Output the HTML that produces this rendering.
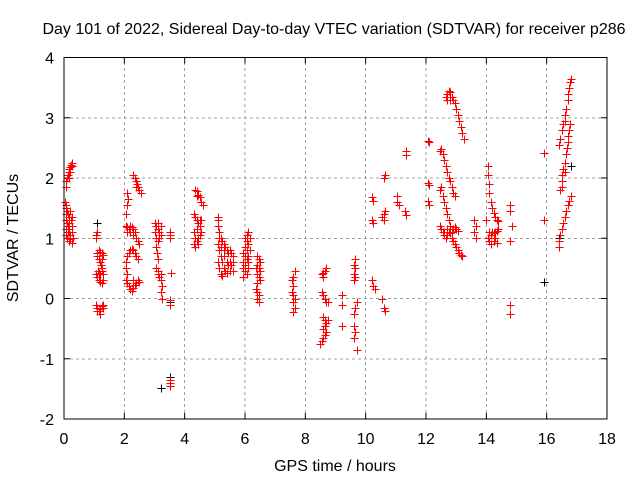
<!DOCTYPE html>
<html><head><meta charset="utf-8"><style>
body{margin:0;background:#fff}
svg{display:block;font-family:"Liberation Sans",sans-serif}
</style></head><body>
<svg id="chart" width="640" height="480" viewBox="0 0 640 480" xmlns="http://www.w3.org/2000/svg">
<rect width="640" height="480" fill="#fff"/>
<text x="334" y="34" font-size="16" text-anchor="middle" fill="#000">Day 101 of 2022, Sidereal Day-to-day VTEC variation (SDTVAR) for receiver p286</text>
<text x="335" y="471" font-size="16" text-anchor="middle">GPS time / hours</text>
<text transform="translate(18,238) rotate(-90)" font-size="16" text-anchor="middle">SDTVAR / TECUs</text>
<g id="grid" shape-rendering="crispEdges"></g>
<g id="ticks"></g>
<g id="marks" shape-rendering="crispEdges"></g>
<rect x="64" y="57.5" width="543" height="361.5" fill="none" stroke="#000" stroke-width="1"/>
</svg>
<script>
const xTicks=[0,2,4,6,8,10,12,14,16,18];
const yTicks=[-2,-1,0,1,2,3,4];
const blackPoints=[[1.1,1.25],[3.2,-1.48],[3.5,-1.3],[3.5,-0.05],[15.9,0.28],[16.4,1.0],[16.8,2.2]];
const redPoints=[
[0.05,1.85],[0.07,1.95],[0.1,2.0],[0.12,2.05],[0.15,2.1],[0.18,2.15],[0.2,2.18],[0.22,2.22],[0.25,2.25],[0.28,2.2],[0.15,2.0],[0.2,2.1],
[0.03,1.6],[0.05,1.55],[0.08,1.5],[0.1,1.45],[0.12,1.4],[0.15,1.35],[0.05,1.4],[0.08,1.3],[0.1,1.25],[0.12,1.2],[0.15,1.15],[0.18,1.1],[0.2,1.05],[0.05,1.15],[0.08,1.05],[0.1,1.0],[0.15,0.95],[0.2,0.98],[0.25,0.92],[0.18,1.25],[0.22,1.3],[0.25,1.35],[0.28,1.2],[0.2,1.45],[0.25,1.1],[0.3,1.0],[0.12,1.1],[0.05,1.05],
[1.1,0.75],[1.15,0.8],[1.2,0.78],[1.25,0.75],[1.1,0.7],[1.15,0.65],[1.2,0.6],[1.22,0.55],[1.25,0.5],[1.25,0.45],[1.3,0.4],[1.05,0.4],[1.1,0.35],[1.15,0.3],[1.2,0.28],[1.25,0.25],[1.3,0.3],[1.12,0.45],[1.15,0.42],[1.2,0.4],[1.3,0.72],[1.25,0.65],[1.05,1.05],[1.1,1.1],[1.05,1.0],
[1.05,-0.1],[1.1,-0.15],[1.15,-0.2],[1.2,-0.18],[1.25,-0.12],[1.3,-0.1],[1.1,-0.2],[1.2,-0.25],[1.3,-0.15],
[2.3,2.05],[2.35,2.0],[2.38,1.95],[2.42,1.9],[2.45,1.85],[2.5,1.8],[2.55,1.75],[2.4,1.85],[2.1,1.75],[2.12,1.65],[2.1,1.55],[2.05,1.4],
[2.05,1.2],[2.1,1.18],[2.15,1.15],[2.2,1.2],[2.25,1.18],[2.3,1.15],[2.35,1.1],[2.4,1.0],[2.45,0.95],[2.5,0.9],[2.1,1.1],[2.2,1.1],[2.3,1.05],
[2.05,0.6],[2.1,0.7],[2.15,0.75],[2.2,0.8],[2.25,0.82],[2.3,0.8],[2.35,0.75],[2.4,0.7],[2.45,0.65],[2.05,0.5],[2.08,0.4],[2.05,0.3],[2.1,0.25],[2.15,0.2],[2.2,0.15],[2.25,0.12],[2.3,0.18],[2.35,0.22],[2.4,0.25],[2.45,0.3],[2.5,0.28],[2.3,0.3],
[3.0,1.25],[3.05,1.2],[3.1,1.15],[3.15,1.1],[3.2,1.05],[3.0,1.1],[3.1,1.25],[3.2,1.2],[3.05,1.0],[3.15,1.0],[3.1,0.95],[3.05,0.85],[3.08,0.75],[3.1,0.65],[3.05,0.5],[3.1,0.45],[3.15,0.35],[3.2,0.3],[3.25,0.2],[3.2,0.1],[3.25,0.0],[3.1,0.4],[3.2,0.4],
[3.5,1.1],[3.5,1.05],[3.5,1.0],[3.55,0.42],[3.5,-0.02],[3.52,-0.1],[3.5,-1.45],[3.5,-1.4],[3.5,-1.35],
[4.35,1.8],[4.4,1.78],[4.45,1.72],[4.5,1.68],[4.55,1.6],[4.6,1.55],[4.4,1.7],
[4.3,1.4],[4.35,1.35],[4.4,1.3],[4.45,1.25],[4.5,1.2],[4.55,1.1],[4.3,1.1],[4.35,1.0],[4.4,0.95],[4.45,1.0],[4.5,1.05],[4.3,0.9],[4.35,0.85],[4.45,0.9],[4.5,1.3],[4.4,1.15],[4.55,1.3],
[5.1,1.35],[5.1,1.3],[5.1,1.2],[5.15,1.1],[5.2,1.0],[5.25,0.95],[5.3,0.9],[5.35,0.85],[5.4,0.8],[5.45,0.75],[5.5,0.8],[5.55,0.75],[5.6,0.7],[5.1,0.9],[5.15,0.8],[5.2,0.7],[5.25,0.6],[5.3,0.5],[5.35,0.45],[5.4,0.42],[5.5,0.45],[5.6,0.45],[5.1,0.6],[5.15,0.5],[5.2,0.4],[5.25,0.38],[5.3,0.7],[5.45,0.55],[5.55,0.55],[5.15,1.0],[5.3,0.8],[5.4,0.6],[5.5,0.6],[5.2,0.85],[5.6,0.6],
[6.1,1.1],[6.05,1.05],[6.0,1.0],[6.05,0.95],[6.1,0.9],[6.0,0.85],[6.05,0.8],[5.95,0.75],[6.0,0.7],[6.1,0.7],[6.05,0.65],[5.95,0.6],[6.0,0.55],[6.1,0.6],[5.95,0.5],[6.0,0.45],[6.05,0.4],[5.95,0.35],[6.15,0.8],[6.15,1.0],[6.1,0.5],
[6.4,0.7],[6.45,0.65],[6.5,0.6],[6.4,0.55],[6.45,0.5],[6.5,0.45],[6.4,0.4],[6.45,0.35],[6.4,0.25],[6.35,0.15],[6.4,0.1],[6.45,0.05],[6.4,0.0],[6.45,-0.05],[6.5,0.3],[6.35,0.5],
[7.65,0.45],[7.6,0.35],[7.55,0.3],[7.6,0.2],[7.55,0.1],[7.6,0.05],[7.65,0.0],[7.6,-0.05],[7.65,-0.15],[7.6,-0.22],
[8.55,0.4],[8.6,0.42],[8.65,0.45],[8.7,0.5],[8.6,0.35],[8.55,0.1],[8.6,0.05],[8.65,0.0],[8.7,-0.05],[8.75,-0.05],
[8.6,-0.3],[8.65,-0.35],[8.7,-0.4],[8.65,-0.45],[8.6,-0.5],[8.7,-0.55],[8.65,-0.6],[8.6,-0.65],[8.55,-0.7],[8.5,-0.75],[8.75,-0.35],
[9.2,0.05],[9.2,-0.1],[9.2,-0.45],
[9.65,0.65],[9.6,0.55],[9.65,0.5],[9.6,0.4],[9.65,0.35],[9.6,0.3],[9.7,-0.05],[9.65,-0.15],[9.6,-0.25],[9.6,-0.45],[9.65,-0.55],[9.6,-0.65],[9.7,-0.85],
[10.2,1.68],[10.25,1.62],[10.2,1.3],[10.25,1.25],[10.2,0.3],[10.25,0.2],[10.3,0.15],
[10.6,2.0],[10.65,2.05],[10.55,1.35],[10.6,1.4],[10.65,1.45],[10.6,1.3],[10.55,0.0],[10.6,-0.15],[10.65,-0.2],
[11.05,1.7],[11.05,1.6],[11.1,1.55],[11.35,2.45],[11.35,2.38],[11.3,1.45],[11.35,1.38],
[12.05,2.62],[12.1,2.6],[12.05,1.92],[12.1,1.88],[12.05,1.62],[12.1,1.55],
[12.65,3.35],[12.7,3.4],[12.75,3.45],[12.8,3.42],[12.85,3.35],[12.9,3.3],[12.95,3.25],[13.0,3.15],[13.05,3.05],[13.1,2.95],[13.15,2.85],[13.2,2.75],[13.25,2.65],[12.7,3.3],[12.8,3.3],
[12.45,2.45],[12.5,2.48],[12.55,2.4],[12.6,2.3],[12.65,2.2],[12.7,2.1],[12.75,2.0],[12.8,1.95],[12.85,1.85],[12.9,1.75],[12.95,1.7],
[12.45,1.8],[12.5,1.85],[12.55,1.7],[12.6,1.6],[12.65,1.5],[12.7,1.4],[12.75,1.3],[12.8,1.2],
[12.45,1.2],[12.5,1.15],[12.55,1.1],[12.6,1.05],[12.65,1.0],[12.7,1.05],[12.75,1.1],[12.8,1.08],[12.85,1.1],[12.9,1.15],[12.95,1.18],[13.0,1.15],[13.05,1.12],[12.85,1.0],[12.9,0.95],[12.95,0.9],[13.0,0.85],[13.05,0.8],[13.1,0.75],[13.15,0.72],[13.2,0.7],[12.7,1.15],[12.6,1.1],
[13.6,1.3],[13.65,1.2],[13.6,1.1],[13.65,1.0],[14.05,2.2],[14.05,2.05],[14.1,1.9],[14.1,1.75],[14.15,1.6],[14.2,1.5],[14.25,1.42],[14.3,1.35],[14.35,1.3],[14.4,1.28],[14.1,1.1],[14.15,1.05],[14.2,1.1],[14.25,1.08],[14.3,1.1],[14.35,1.12],[14.4,1.15],[14.05,1.0],[14.1,0.95],[14.15,0.9],[14.25,0.95],[14.3,1.0],[14.35,0.92],[14.0,1.3],
[14.8,1.55],[14.8,1.45],[14.85,1.2],[14.8,0.95],[14.8,-0.1],[14.8,-0.25],
[15.9,2.42],[15.9,1.3],
[16.4,2.55],[16.45,2.65],[16.5,2.8],[16.55,2.9],[16.6,2.95],[16.62,3.05],[16.65,3.15],[16.7,3.3],[16.72,3.4],[16.75,3.5],[16.78,3.6],[16.8,3.65],
[16.45,1.8],[16.5,1.95],[16.52,2.05],[16.55,2.15],[16.6,2.25],[16.65,2.4],[16.68,2.5],[16.7,2.6],[16.72,2.7],[16.75,2.8],[16.78,2.9],[16.6,2.1],[16.5,1.85],
[16.4,0.85],[16.4,0.95],[16.45,1.05],[16.5,1.15],[16.55,1.25],[16.6,1.35],[16.65,1.45],[16.7,1.55],[16.75,1.62],[16.8,1.7]
];
const NS='http://www.w3.org/2000/svg';
const X0=64,X1=607,Y0=419,Y1=57.5,xMin=0,xMax=18,yMin=-2,yMax=4;
function sx(v){return X0+(v-xMin)/(xMax-xMin)*(X1-X0);}
function sy(v){return Y0-(v-yMin)/(yMax-yMin)*(Y0-Y1);}
function mk(tag,attrs,parent){const e=document.createElementNS(NS,tag);for(const k in attrs)e.setAttribute(k,attrs[k]);parent.appendChild(e);return e;}
const grid=document.getElementById('grid'),ticks=document.getElementById('ticks'),marks=document.getElementById('marks');
xTicks.forEach(t=>{
  const x=sx(t);
  if(t>xMin&&t<xMax){const g=mk('line',{x1:x,x2:x,y1:Y0,y2:Y1,stroke:'#a0a0a0','stroke-dasharray':'3,3'},grid);
  
  }
  mk('line',{x1:x,x2:x,y1:Y0,y2:Y0-6,stroke:'#000'},ticks);
  mk('line',{x1:x,x2:x,y1:Y1,y2:Y1+6,stroke:'#000'},ticks);
  const l=mk('text',{x:x,y:Y0+25,'font-size':16,'text-anchor':'middle'},ticks);
  l.textContent=t;
  
  
});
yTicks.forEach(t=>{
  const y=sy(t);
  if(t>yMin&&t<yMax){const g=mk('line',{x1:X0,x2:X1,y1:y,y2:y,stroke:'#a0a0a0','stroke-dasharray':'3,3'},grid);
  
  }
  mk('line',{x1:X0,x2:X0+6,y1:y,y2:y,stroke:'#000'},ticks);
  mk('line',{x1:X1,x2:X1-6,y1:y,y2:y,stroke:'#000'},ticks);
  const l=mk('text',{x:X0-10,y:y+6,'font-size':16,'text-anchor':'end'},ticks);
  l.textContent=t;
  
  
});
function drawSeries(pts,color,name){
  let d='';
  pts.forEach(p=>{const x=Math.round(sx(p[0]))+0.5,y=Math.round(sy(p[1]))+0.5;d+=`M${x-4},${y}h8M${x},${y-4}v8`;});
  const path=mk('path',{d:d,stroke:color,'stroke-width':1.2,fill:'none'},marks);
  
  
}
drawSeries(blackPoints,'#000','sdtvar-black-points');
drawSeries(redPoints,'#ff0000','sdtvar-red-points');
</script>
</body></html>
